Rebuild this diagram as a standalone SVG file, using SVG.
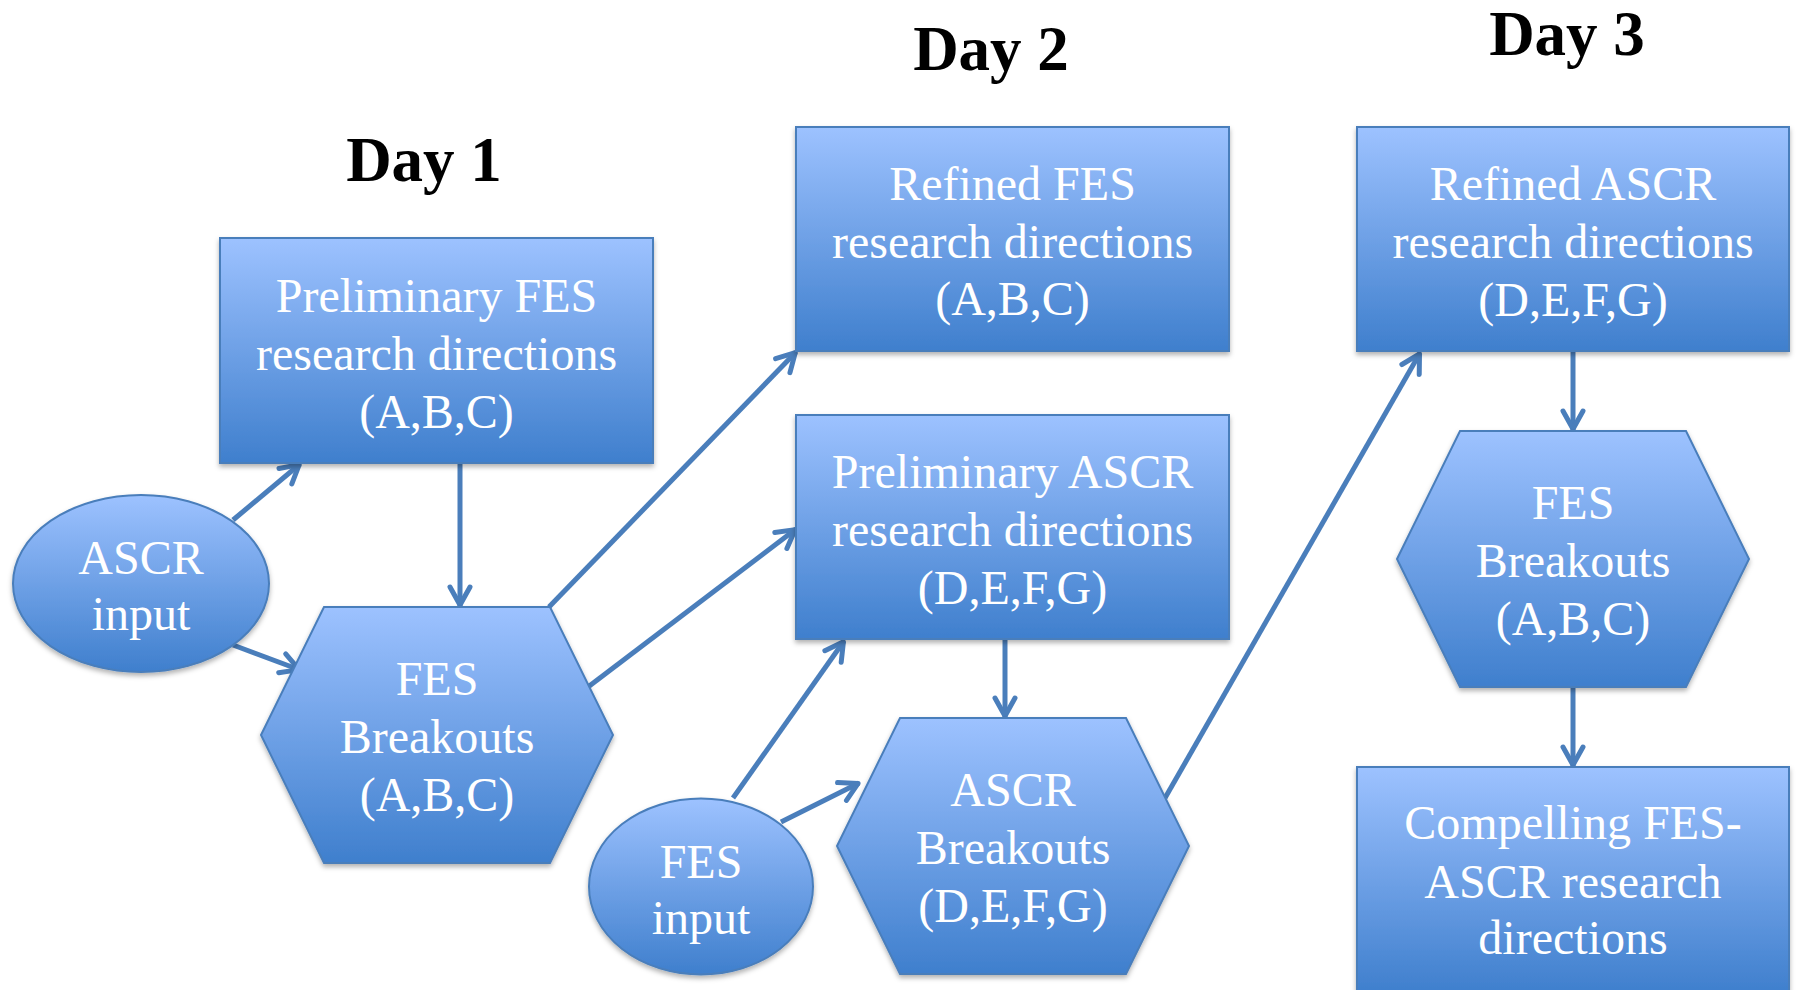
<svg xmlns="http://www.w3.org/2000/svg" width="1796" height="990" viewBox="0 0 1796 990">
<style>
.shape{fill:url(#g);stroke:#4a7ebb;stroke-width:2;filter:url(#sh)}
.lbl{font-family:"Liberation Serif","Times New Roman",serif;font-size:48px;fill:#ffffff;text-anchor:middle}
.day{font-family:"Liberation Serif","Times New Roman",serif;font-size:63px;font-weight:bold;fill:#000000;text-anchor:middle}
.conn line{stroke:#4a7ebb;stroke-width:5;fill:none;marker-end:url(#ah)}
</style>
<defs>
<linearGradient id="g" x1="0" y1="0" x2="0" y2="1">
<stop offset="0" stop-color="#9dc2ff"/>
<stop offset="1" stop-color="#3f7fcd"/>
</linearGradient>
<filter id="sh" x="-10%" y="-10%" width="120%" height="125%">
<feDropShadow dx="0" dy="3" stdDeviation="2.5" flood-color="#000000" flood-opacity="0.3"/>
</filter>
<marker id="ah" viewBox="-26 -14 30 28" refX="0" refY="0" markerWidth="30" markerHeight="28" markerUnits="userSpaceOnUse" orient="auto">
<path d="M-19,-10 L-1,0 L-19,10" fill="none" stroke="#4a7ebb" stroke-width="5" stroke-linecap="round" stroke-linejoin="round"/>
</marker>
</defs>
<rect width="1796" height="990" fill="#ffffff"/>

<g id="titles">
<text class="day" x="424" y="181">Day 1</text>
<text class="day" x="991" y="70">Day 2</text>
<text class="day" x="1567" y="55">Day 3</text>
</g>

<g class="conn" id="connectors">
<line x1="233" y1="520" x2="300" y2="464"/>
<line x1="233" y1="645" x2="300" y2="670"/>
<line x1="460" y1="464" x2="460" y2="606"/>
<line x1="549" y1="607" x2="796" y2="352"/>
<line x1="588" y1="687" x2="796" y2="529"/>
<line x1="733" y1="798" x2="844" y2="641"/>
<line x1="781" y1="822" x2="859" y2="783"/>
<line x1="1005" y1="640" x2="1005" y2="717"/>
<line x1="1165" y1="798" x2="1420" y2="353"/>
<line x1="1573" y1="352" x2="1573" y2="430"/>
<line x1="1573" y1="688" x2="1573" y2="766"/>
</g>

<g id="prelim-fes">
<rect class="shape" x="220" y="238" width="433" height="225"/>
<text class="lbl" x="436.5" y="312">Preliminary FES</text>
<text class="lbl" x="436.5" y="370">research directions</text>
<text class="lbl" x="436.5" y="428">(A,B,C)</text>
</g>

<g id="ascr-input">
<ellipse class="shape" cx="141" cy="583.5" rx="128" ry="88.5"/>
<text class="lbl" x="141" y="574">ASCR</text>
<text class="lbl" x="141" y="630">input</text>
</g>

<g id="fes-breakouts-1">
<polygon class="shape" points="261,735 324,607 550,607 613,735 550,863 324,863"/>
<text class="lbl" x="437" y="695">FES</text>
<text class="lbl" x="437" y="753">Breakouts</text>
<text class="lbl" x="437" y="811">(A,B,C)</text>
</g>

<g id="refined-fes">
<rect class="shape" x="796" y="127" width="433" height="224"/>
<text class="lbl" x="1012.5" y="200">Refined FES</text>
<text class="lbl" x="1012.5" y="258">research directions</text>
<text class="lbl" x="1012.5" y="315">(A,B,C)</text>
</g>

<g id="prelim-ascr">
<rect class="shape" x="796" y="415" width="433" height="224"/>
<text class="lbl" x="1012.5" y="488">Preliminary ASCR</text>
<text class="lbl" x="1012.5" y="546">research directions</text>
<text class="lbl" x="1012.5" y="604">(D,E,F,G)</text>
</g>

<g id="fes-input">
<ellipse class="shape" cx="701" cy="886.5" rx="112" ry="88"/>
<text class="lbl" x="701" y="878">FES</text>
<text class="lbl" x="701" y="934">input</text>
</g>

<g id="ascr-breakouts">
<polygon class="shape" points="837,846 900,718 1126,718 1189,846 1126,974 900,974"/>
<text class="lbl" x="1013" y="806">ASCR</text>
<text class="lbl" x="1013" y="864">Breakouts</text>
<text class="lbl" x="1013" y="922">(D,E,F,G)</text>
</g>

<g id="refined-ascr">
<rect class="shape" x="1357" y="127" width="432" height="224"/>
<text class="lbl" x="1573" y="200">Refined ASCR</text>
<text class="lbl" x="1573" y="258">research directions</text>
<text class="lbl" x="1573" y="316">(D,E,F,G)</text>
</g>

<g id="fes-breakouts-3">
<polygon class="shape" points="1397,559 1460,431 1686,431 1749,559 1686,687 1460,687"/>
<text class="lbl" x="1573" y="519">FES</text>
<text class="lbl" x="1573" y="577">Breakouts</text>
<text class="lbl" x="1573" y="635">(A,B,C)</text>
</g>

<g id="compelling">
<rect class="shape" x="1357" y="767" width="432" height="226"/>
<text class="lbl" x="1573" y="839">Compelling FES-</text>
<text class="lbl" x="1573" y="898">ASCR research</text>
<text class="lbl" x="1573" y="954">directions</text>
</g>
</svg>
